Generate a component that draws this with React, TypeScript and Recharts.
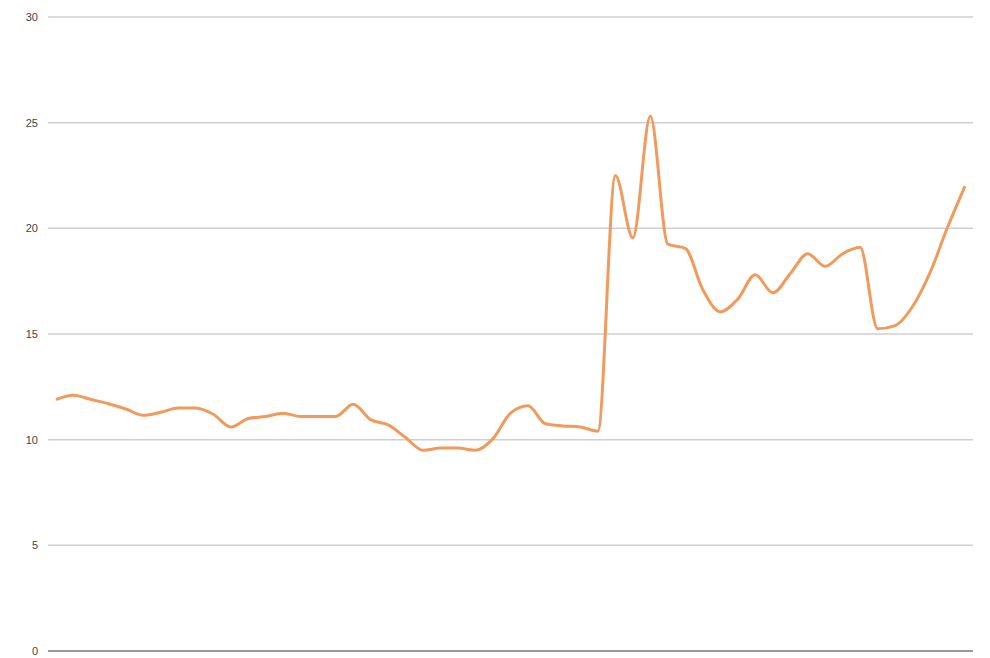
import React from 'react';
import { LineChart, Line, XAxis, YAxis, CartesianGrid, ReferenceLine } from 'recharts';

// one reading per step, left to right (no x labels are shown)
const values = [
    11.9, 12.1, 11.9, 11.7, 11.45, 11.15, 11.3, 11.5, 11.5, 11.2,
    10.6, 11.0, 11.1, 11.25, 11.1, 11.1, 11.1, 11.67, 10.95, 10.7,
    10.1, 9.5, 9.6, 9.6, 9.5, 10.05, 11.26, 11.6, 10.75, 10.65,
    10.6, 10.4, 22.5, 19.55, 25.3, 19.25, 19.05, 17.1, 16.05, 16.65,
    17.8, 16.95, 17.85, 18.8, 18.2, 18.8, 19.1, 15.25, 15.4, 16.3,
    17.9, 20.05, 22.0,
];

const yTicks = [0, 5, 10, 15, 20, 25, 30];

const data = values.map((value, i) => ({ step: i, value }));

const App: React.FC = () => {
    return (
        <div style={{ position: 'fixed', top: 0, left: 0, width: 990, height: 658, background: '#fff' }}>
            <LineChart
                width={990}
                height={658}
                data={data}
                margin={{ top: 17, right: 17, bottom: 7, left: 0 }}
            >
                <CartesianGrid vertical={false} stroke="#cfcfcf" strokeWidth={1.5} />
                <XAxis dataKey="step" hide padding={{ left: 8, right: 8 }} />
                <YAxis
                    width={48}
                    domain={[0, 30]}
                    ticks={yTicks}
                    axisLine={false}
                    tickLine={false}
                    tickMargin={4}
                    tick={{ fill: '#444', fontSize: 11, fontFamily: 'Liberation Sans, Arial, sans-serif' }}
                />
                <ReferenceLine y={0} stroke="#9a9a9a" strokeWidth={2} />
                <Line
                    type="monotone"
                    dataKey="value"
                    stroke="#F29A5B"
                    strokeWidth={3}
                    dot={false}
                    isAnimationActive={false}
                />
            </LineChart>
        </div>
    );
};

export default App;
